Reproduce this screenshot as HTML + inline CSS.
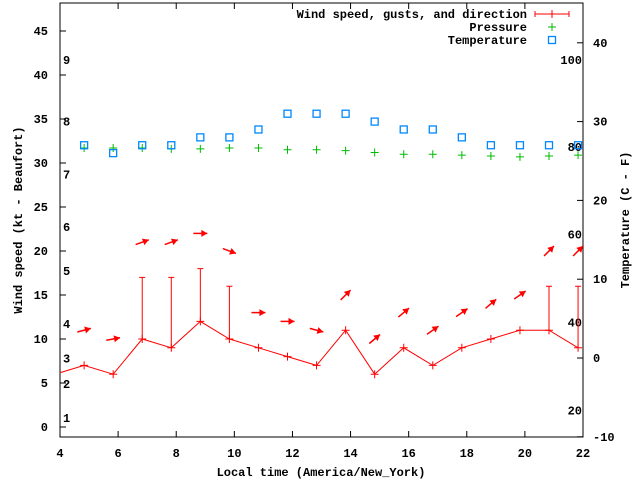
<!DOCTYPE html>
<html><head><meta charset="utf-8"><style>
body{margin:0;background:#fff}
svg{display:block;font-family:"Liberation Mono",monospace;font-size:12px;font-weight:bold}
</style></head><body>
<svg id="c" width="640" height="480" xmlns="http://www.w3.org/2000/svg"></svg>
<script>
const hours=[3.83,4.83,5.83,6.83,7.83,8.83,9.83,10.83,11.83,12.83,13.83,14.83,15.83,16.83,17.83,18.83,19.83,20.83,21.83];
const windSpeed=[6,7,6,10,9,12,10,9,8,7,11,6,9,7,9,10,11,11,9];
const gusts=[null,null,null,17,17,18,16,null,null,null,null,null,null,null,null,null,null,16,16];
const arrowHours=[4.83,5.83,6.83,7.83,8.83,9.83,10.83,11.83,12.83,13.83,14.83,15.83,16.83,17.83,18.83,19.83,20.83,21.83];
const arrowY=[11,10,21,21,22,20,13,12,11,15,10,13,11,13,14,15,20,20];
const arrowAngle=[15,10,20,20,0,-20,0,0,-15,45,40,40,35,35,40,35,45,45];
const pressure=[31.7,31.7,31.7,31.6,31.6,31.7,31.7,31.5,31.5,31.4,31.2,31.0,31.0,30.9,30.8,30.7,30.8,30.9];
const temperature=[27,26,27,27,28,28,29,31,31,31,30,29,29,28,27,27,27,27];
const xTicks=[4,6,8,10,12,14,16,18,20,22];
const yTicks=[0,5,10,15,20,25,30,35,40,45];
const y2Ticks=[-10,0,10,20,30,40];
const beaufort=[[1,1],[2,4.9],[3,7.8],[4,11.7],[5,17.7],[6,22.7],[7,28.7],[8,34.7],[9,41.7]];
const fahrenheit=[[100,41.7],[80,31.8],[60,21.9],[40,11.9],[20,1.9]];

const L=60,R=583,T=3,B=437;
const X=v=>L+(v-4)/18*(R-L);
const Y=v=>427-v*8.8;
const Y2=v=>358-v*7.88;
const svg=document.getElementById('c');
function el(tag,attrs,parent){const e=document.createElementNS('http://www.w3.org/2000/svg',tag);for(const k in attrs)e.setAttribute(k,attrs[k]);(parent||svg).appendChild(e);return e;}
function txt(s,x,y,anchor,parent,name){const t=el('text',{x:x,y:y,'text-anchor':anchor||'start',fill:'#000'},parent);t.textContent=s;

return t;}

const frame=el('rect',{x:L,y:T,width:R-L,height:B-T,fill:'none',stroke:'#000','stroke-width':1});


const ax=el('g',{stroke:'#000'});


xTicks.forEach(v=>{el('line',{x1:X(v),x2:X(v),y1:B,y2:B-6},ax);el('line',{x1:X(v),x2:X(v),y1:T,y2:T+6},ax);txt(String(v),X(v),457,'middle',null,'x-tick-label');});
yTicks.forEach(v=>{el('line',{x1:L,x2:L+6,y1:Y(v),y2:Y(v)},ax);txt(String(v),48,Y(v)+4,'end',null,'y-tick-label');});
y2Ticks.forEach(v=>{el('line',{x1:R,x2:R-6,y1:Y2(v),y2:Y2(v)},ax);txt(String(v),593,Y2(v)+4,'start',null,'y2-tick-label');});
beaufort.forEach(b=>txt(String(b[0]),63,Y(b[1])+4,'start',null,'beaufort-label'));
fahrenheit.forEach(f=>txt(String(f[0]),582,Y(f[1])+4,'end',null,'fahrenheit-label'));
txt('Local time (America/New_York)',321,476,'middle',null,'x-axis-title');
const yt=txt('Wind speed (kt - Beaufort)',0,0,'middle',null,'y-axis-title');yt.setAttribute('transform','translate(22,220) rotate(-90)');
const yt2=txt('Temperature (C - F)',0,0,'middle',null,'y2-axis-title');yt2.setAttribute('transform','translate(629,220) rotate(-90)');

const defs=el('defs',{});const cp=el('clipPath',{id:'pc'},defs);el('rect',{x:L,y:T,width:R-L,height:B-T},cp);
const g=el('g',{'clip-path':'url(#pc)'});



const pl=el('polyline',{points:hours.map((h,i)=>X(h)+','+Y(windSpeed[i])).join(' '),fill:'none',stroke:'#f00','stroke-width':1},g);


hours.forEach((h,i)=>{
  const p=el('path',{d:`M${X(h)-4},${Y(windSpeed[i])}h8M${X(h)},${Y(windSpeed[i])-4}v8`,stroke:'#f00'},g);
  
  
  if(gusts[i]!=null){
    const gb=el('path',{d:`M${X(h)},${Y(windSpeed[i])}V${Y(gusts[i])}M${X(h)-3},${Y(gusts[i])}h6`,stroke:'#f00'},g);
    
    
  }
});
arrowHours.forEach((h,i)=>{
  const a=arrowAngle[i]*Math.PI/180,cx=X(h),cy=Y(arrowY[i]),len=14;
  const dx=Math.cos(a),dy=-Math.sin(a);
  const x1=cx-dx*len/2,y1=cy-dy*len/2,x2=cx+dx*len/2,y2=cy+dy*len/2;
  const ag=el('g',{},g);
  
  
  el('line',{x1:x1,y1:y1,x2:x2,y2:y2,stroke:'#f00','stroke-width':1.5},ag);
  const hx=x2-dx*6,hy=y2-dy*6,px=-dy*3.5,py=dx*3.5;
  el('polygon',{points:`${x2},${y2} ${hx+px},${hy+py} ${hx-px},${hy-py}`,fill:'#f00'},ag);
});
arrowHours.forEach((h,i)=>{
  const p=el('path',{d:`M${X(h)-4},${Y(pressure[i])}h8M${X(h)},${Y(pressure[i])-4}v8`,stroke:'#0b0'},g);
  
  
});
arrowHours.forEach((h,i)=>{
  const r=el('rect',{x:X(h)-3.5,y:Y2(temperature[i])-3.5,width:7,height:7,fill:'none',stroke:'#08f','stroke-width':1.3},g);
  
  
});

const lg=el('g',{});


txt('Wind speed, gusts, and direction',527,18,'end',lg,'legend-wind');
txt('Pressure',527,31,'end',lg,'legend-pressure');
txt('Temperature',527,44,'end',lg,'legend-temperature');
el('path',{d:'M535,14h34M535,11v6M569,11v6M552,10v8',stroke:'#f00'},lg);
el('path',{d:'M548,27h8M552,23v8',stroke:'#0b0'},lg);
el('rect',{x:548.5,y:36.5,width:7,height:7,fill:'none',stroke:'#08f','stroke-width':1.3},lg);
</script>
</body></html>
